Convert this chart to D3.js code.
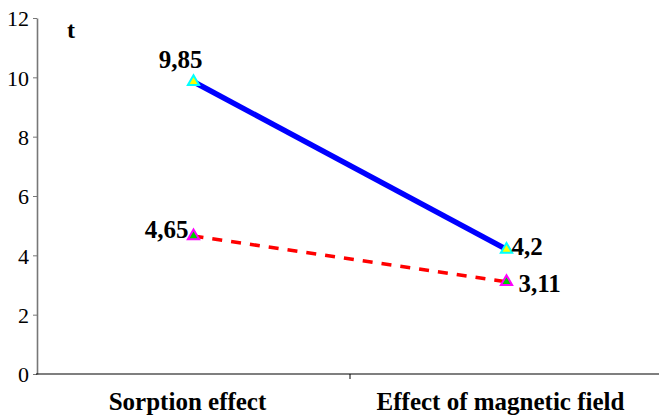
<!DOCTYPE html>
<html>
<head>
<meta charset="utf-8">
<script src="https://cdn.jsdelivr.net/npm/d3@7"></script>
<style>body { margin: 0; }</style>
</head>
<body>
<div id="chart"></div>
<script>
// data
const categories = ["Sorption effect", "Effect of magnetic field"];
const sorption = [9.85, 4.2];   // blue solid line
const magnetic = [4.65, 3.11];  // red dashed line
const sorptionLabels = ["9,85", "4,2"];
const magneticLabels = ["4,65", "3,11"];
const yTicks = [0, 2, 4, 6, 8, 10, 12];

const FONT = "Liberation Serif";
const width = 659, height = 416;
const m = { top: 18, right: -4, bottom: 42, left: 37 };

const svg = d3.select("#chart").append("svg")
    .attr("width", width)
    .attr("height", height)
    .attr("font-family", FONT);

const x = d3.scaleBand()
    .domain(categories)
    .range([m.left, width - m.right]);

const y = d3.scaleLinear()
    .domain([0, 12])
    .range([height - m.bottom, m.top]);

const cx = d => x(d) + x.bandwidth() / 2;

// eje y
const yAxis = svg.append("g")
    .attr("transform", "translate(" + m.left + ",0)")
    .call(d3.axisLeft(y).tickValues(yTicks).tickSize(4).tickSizeOuter(0).tickPadding(4));
yAxis.attr("font-family", FONT).attr("font-size", null);
yAxis.select(".domain").attr("stroke", "#777").attr("stroke-width", 1.6);
yAxis.selectAll(".tick line").attr("stroke", "#777");
yAxis.selectAll("text")
    .attr("font-family", FONT)
    .attr("font-size", 22)
    .attr("fill", "#000")
    .attr("dy", "0.35em");

// eje x
const xAxis = svg.append("g")
    .attr("transform", "translate(0," + y(0) + ")");
xAxis.append("line")
    .attr("x1", m.left - 1).attr("x2", width)
    .attr("stroke", "#000").attr("stroke-width", 1.2);
xAxis.selectAll("line.sep")
    .data(categories.slice(1))
    .enter().append("line")
    .attr("class", "sep")
    .attr("x1", d => x(d)).attr("x2", d => x(d))
    .attr("y1", 0).attr("y2", 5)
    .attr("stroke", "#000");
xAxis.selectAll("text")
    .data(categories)
    .enter().append("text")
    .attr("x", d => cx(d) - 6)
    .attr("y", 36)
    .attr("text-anchor", "middle")
    .attr("font-family", FONT)
    .attr("font-size", 25)
    .attr("font-weight", "bold")
    .text(d => d);

// título del eje
svg.append("text")
    .attr("x", 67).attr("y", 38)
    .attr("font-family", FONT)
    .attr("font-size", 24)
    .attr("font-weight", "bold")
    .text("t");

const line = d3.line()
    .x((d, i) => cx(categories[i]))
    .y(d => y(d));

// línea roja discontinua
svg.append("path")
    .datum(magnetic)
    .attr("d", line)
    .attr("fill", "none")
    .attr("stroke", "#ff0000")
    .attr("stroke-width", 3.5)
    .attr("stroke-dasharray", "10,9");

// línea azul
svg.append("path")
    .datum(sorption)
    .attr("d", line)
    .attr("fill", "none")
    .attr("stroke", "#0000ff")
    .attr("stroke-width", 5.5);

const tri = d3.symbol().type(d3.symbolTriangle).size(55);

svg.selectAll("path.mb")
    .data(sorption)
    .enter().append("path")
    .attr("class", "mb")
    .attr("d", tri)
    .attr("transform", (d, i) => "translate(" + cx(categories[i]) + "," + y(d) + ")")
    .attr("fill", "#ffff00")
    .attr("stroke", "#00ffff")
    .attr("stroke-width", 2);

svg.selectAll("path.mr")
    .data(magnetic)
    .enter().append("path")
    .attr("class", "mr")
    .attr("d", tri)
    .attr("transform", (d, i) => "translate(" + cx(categories[i]) + "," + y(d) + ")")
    .attr("fill", "#00cc00")
    .attr("stroke", "#ff00ff")
    .attr("stroke-width", 2);

// etiquetas de valores
const lab = (txt, xx, yy, anchor) => svg.append("text")
    .attr("x", xx).attr("y", yy)
    .attr("text-anchor", anchor)
    .attr("font-family", FONT)
    .attr("font-size", 25)
    .attr("font-weight", "bold")
    .text(txt);

lab(sorptionLabels[0], cx(categories[0]) - 13, y(sorption[0]) - 14, "middle");
lab(sorptionLabels[1], cx(categories[1]) + 5, y(sorption[1]) + 6, "start");
lab(magneticLabels[0], cx(categories[0]) - 5, y(magnetic[0]) + 2, "end");
lab(magneticLabels[1], cx(categories[1]) + 12, y(magnetic[1]) + 10, "start");
</script>
</body>
</html>
